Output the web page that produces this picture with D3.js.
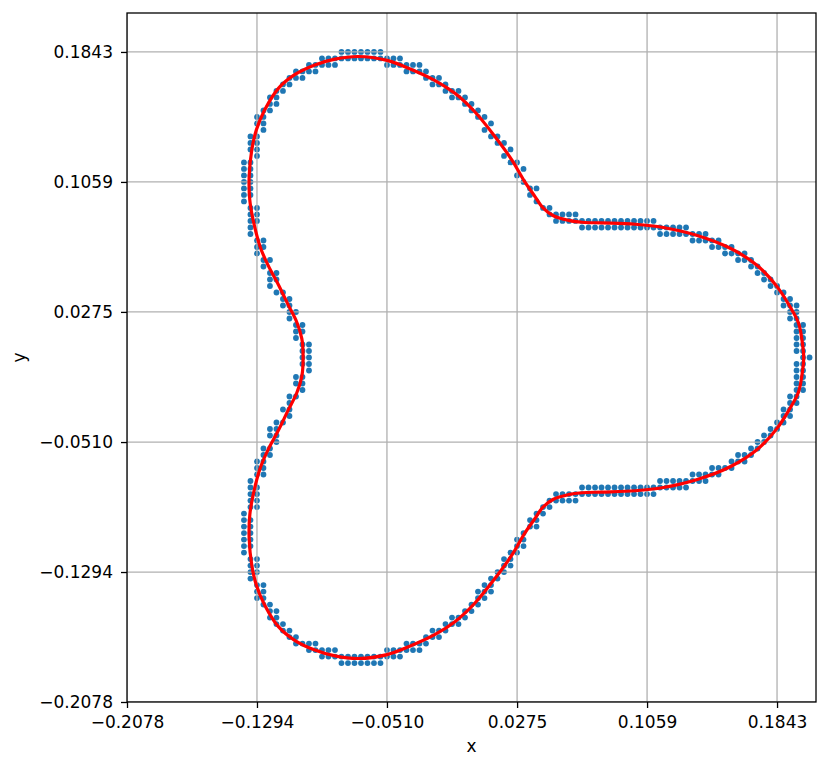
<!DOCTYPE html>
<html>
<head>
<meta charset="utf-8">
<script src="https://cdn.jsdelivr.net/npm/d3@7/dist/d3.min.js"></script>
<style>
  html, body { margin: 0; padding: 0; background: #ffffff; }
  svg { display: block; }
  text { font-family: "DejaVu Sans", sans-serif; }
</style>
</head>
<body>
<svg id="chart" width="830" height="770"></svg>
<script>
// ---------------- data ----------------
// size (in data units) of one pixel cell of the traced outline
const CELL = 0.0039215;

const xTicks = [-0.2078, -0.1294, -0.0510, 0.0275, 0.1059, 0.1843];
const xTickLabels = ["\u22120.2078", "\u22120.1294", "\u22120.0510", "0.0275", "0.1059", "0.1843"];
const yTicks = [-0.2078, -0.1294, -0.0510, 0.0275, 0.1059, 0.1843];
const yTickLabels = ["\u22120.2078", "\u22120.1294", "\u22120.0510", "0.0275", "0.1059", "0.1843"];
const xDomain = [-0.2078, 0.2078];
const yDomain = [-0.2078, 0.2078];

// outline points (blue): each row = [y cell, [x cells ...]]
const dotRows = [
  [47, [-20,-19,-18,-17,-16,-15,-14]],
  [46, [-23,-22,-21,-20,-19,-18,-17,-16,-15,-14,-13,-12,-11]],
  [45, [-25,-24,-23,-22,-21,-13,-12,-11,-10,-9,-8]],
  [44, [-27,-26,-25,-24,-10,-9,-8,-7]],
  [43, [-28,-27,-26,-7,-6,-5]],
  [42, [-29,-28,-6,-5,-4]],
  [41, [-30,-29,-4,-3,-2]],
  [40, [-31,-30,-3,-2,-1]],
  [39, [-31,-30,-1,0]],
  [38, [-32,-31,0,1]],
  [37, [-33,-32,1,2]],
  [36, [-33,-32,3]],
  [35, [-32,2]],
  [34, [-34,-33,3,4]],
  [33, [-34,-33,4,5]],
  [32, [-34,-33,6]],
  [31, [-33,5]],
  [30, [-35,-34,6,7]],
  [29, [-35,-34,8]],
  [28, [-35,-34,7]],
  [27, [-35,-34,8]],
  [26, [-35,-34,9,10]],
  [25, [-35,-34,9]],
  [24, [-35,10]],
  [23, [-34,-33,11,12]],
  [22, [-34,-33,12,13,14,15,16]],
  [21, [-34,-33,13,14,15,16,17,18,19,20,21,22,23,24,25,26,27,28]],
  [20, [-34,17,18,19,20,21,22,23,24,25,26,27,28,29,30,31,32,33]],
  [19, [-34,29,30,31,32,33,34,35,36]],
  [18, [-33,-32,34,35,36,37,38]],
  [17, [-33,-32,37,38,39,40]],
  [16, [-33,39,40,41,42]],
  [15, [-32,-31,41,42,43]],
  [14, [-32,43,44]],
  [13, [-31,-30,44,45]],
  [12, [-31,-30,45,46]],
  [11, [-31,46,47]],
  [10, [-30,-29,47,48]],
  [9, [-29,-28,48,49]],
  [8, [-29,-28,48,49,50]],
  [7, [-28,-27,49,50]],
  [6, [-28,49,50]],
  [5, [-27,-26,50,51]],
  [4, [-27,-26,50,51]],
  [3, [-27,50,51]],
  [2, [-26,-25,50,51]],
  [1, [-26,-25,50,51]],
  [0, [-26,-25,51,52]],
  [-1, [-26,-25,50,51]],
  [-2, [-25,50,51]],
  [-3, [-27,-26,50,51]],
  [-4, [-27,-26,50,51]],
  [-5, [-26,50,51]],
  [-6, [-28,-27,49,50]],
  [-7, [-28,49,50]],
  [-8, [-29,-28,48,49]],
  [-9, [-28,48,49]],
  [-10, [-30,-29,47,48]],
  [-11, [-31,-30,46,47]],
  [-12, [-31,-30,45,46]],
  [-13, [-30,44,45]],
  [-14, [-32,-31,43,44]],
  [-15, [-32,-31,41,42,43]],
  [-16, [-33,-32,40,41,42]],
  [-17, [-33,-32,37,38,39,40]],
  [-18, [-33,-32,34,35,36,37,38]],
  [-19, [-34,29,30,31,32,33,34,35,36]],
  [-20, [-34,-33,17,18,19,20,21,22,23,24,25,26,27,28,29,30,31,32,33]],
  [-21, [-34,-33,13,14,15,16,17,18,19,20,21,22,23,24,25,26,27,28]],
  [-22, [-34,-33,12,13,14,15,16]],
  [-23, [-34,-33,11,12]],
  [-24, [-35,10,11]],
  [-25, [-35,-34,9,10]],
  [-26, [-35,-34,9,10]],
  [-27, [-35,-34,8]],
  [-28, [-35,-34,7,8]],
  [-29, [-35,-34,7,8]],
  [-30, [-35,6,7]],
  [-31, [-34,-33,5,6]],
  [-32, [-34,-33,5,6]],
  [-33, [-34,-33,4,5]],
  [-34, [-34,3,4]],
  [-35, [-33,-32,2,3]],
  [-36, [-33,-32,1,2,3]],
  [-37, [-33,-32,1,2]],
  [-38, [-32,-31,0,1]],
  [-39, [-31,-30,-1,0]],
  [-40, [-31,-30,-3,-2,-1]],
  [-41, [-30,-29,-4,-3,-2]],
  [-42, [-29,-28,-6,-5,-4]],
  [-43, [-28,-27,-7,-6,-5]],
  [-44, [-27,-26,-25,-24,-10,-9,-8,-7]],
  [-45, [-25,-24,-23,-22,-21,-13,-12,-11,-10,-9,-8]],
  [-46, [-23,-22,-21,-20,-19,-18,-17,-16,-15,-14,-13,-12,-11]],
  [-47, [-20,-19,-18,-17,-16,-15,-14]]
];

// fitted smooth outline (red), in the same cell units: [x, y]
const fitCurve = [
  [51.1,0],[50.9,2.2],[50.3,5.3],[49.0,7.8],[47.0,10.9],[43.9,14.2],[39.8,16.8],
  [34.6,18.8],[29.5,20.0],[25.2,20.5],[20.0,20.7],[17.0,20.8],[14.9,21.1],
  [12.6,21.8],[11.0,23.0],[9.6,25.0],[8.2,27.0],[6.2,30.4],[3.6,34.0],[0.5,37.8],
  [-2.5,40.6],[-5.6,42.6],[-9.7,44.5],[-13.0,45.7],[-17.4,46.3],[-21.0,45.9],
  [-24.1,45.0],[-27.2,43.5],[-29.7,41.4],[-31.8,38.1],[-33.1,35.0],[-33.8,31.9],
  [-34.2,27.8],[-34.1,24.2],[-33.6,21.2],[-32.5,17.0],[-31.3,14.2],[-29.7,11.2],
  [-28.2,8.1],[-26.9,5.5],[-26.1,2.9],[-25.9,0],
  [-26.1,-2.9],[-26.9,-5.5],[-28.2,-8.1],[-29.7,-11.2],[-31.3,-14.2],[-32.5,-17.0],
  [-33.6,-21.2],[-34.1,-24.2],[-34.2,-27.8],[-33.8,-31.9],[-33.1,-35.0],[-31.8,-38.1],
  [-29.7,-41.4],[-27.2,-43.5],[-24.1,-45.0],[-21.0,-45.9],[-17.4,-46.3],[-13.0,-45.7],
  [-9.7,-44.5],[-5.6,-42.6],[-2.5,-40.6],[0.5,-37.8],[3.6,-34.0],[6.2,-30.4],
  [8.2,-27.0],[9.6,-25.0],[11.0,-23.0],[12.6,-21.8],[14.9,-21.1],[17.0,-20.8],
  [20.0,-20.7],[25.2,-20.5],[29.5,-20.0],[34.6,-18.8],[39.8,-16.8],[43.9,-14.2],
  [47.0,-10.9],[49.0,-7.8],[50.3,-5.3],[50.9,-2.2]
];

// ---------------- drawing ----------------
const svg = d3.select("#chart");
const W = 830, H = 770;
const plot = { left: 127, top: 13, right: 816, bottom: 702 };

svg.append("rect").attr("width", W).attr("height", H).attr("fill", "#ffffff");

const x = d3.scaleLinear().domain(xDomain).range([plot.left, plot.right]);
const y = d3.scaleLinear().domain(yDomain).range([plot.bottom, plot.top]);

const dots = [];
dotRows.forEach(([gy, gxs]) => gxs.forEach(gx => dots.push({ x: gx * CELL, y: gy * CELL })));

const clipId = "plotclip";
svg.append("clipPath").attr("id", clipId)
  .append("rect")
  .attr("x", plot.left).attr("y", plot.top)
  .attr("width", plot.right - plot.left).attr("height", plot.bottom - plot.top);

const inner = svg.append("g").attr("clip-path", `url(#${clipId})`);

// scatter (below grid, as in matplotlib)
inner.append("g").selectAll("circle").data(dots).join("circle")
  .attr("cx", d => x(d.x)).attr("cy", d => y(d.y))
  .attr("r", 2.9).attr("fill", "#1f77b4");

// grid
const grid = inner.append("g");
grid.selectAll("line.gx").data(xTicks).join("line").attr("class", "gx")
  .attr("x1", d => x(d)).attr("x2", d => x(d))
  .attr("y1", plot.top).attr("y2", plot.bottom)
  .attr("stroke", "#b0b0b0").attr("stroke-width", 1.3);
grid.selectAll("line.gy").data(yTicks).join("line").attr("class", "gy")
  .attr("y1", d => y(d)).attr("y2", d => y(d))
  .attr("x1", plot.left).attr("x2", plot.right)
  .attr("stroke", "#b0b0b0").attr("stroke-width", 1.3);

// fitted red curve
const line = d3.line()
  .x(d => x(d[0] * CELL)).y(d => y(d[1] * CELL))
  .curve(d3.curveCatmullRomClosed.alpha(0.5));
inner.append("path").datum(fitCurve)
  .attr("d", line).attr("fill", "none")
  .attr("stroke", "#ff0000").attr("stroke-width", 3.2)
  .attr("stroke-linejoin", "round");

// axes
const xAxis = d3.axisBottom(x).tickValues(xTicks)
  .tickFormat((d, i) => xTickLabels[i]).tickSize(6).tickPadding(8).tickSizeOuter(0);
const yAxis = d3.axisLeft(y).tickValues(yTicks)
  .tickFormat((d, i) => yTickLabels[i]).tickSize(6).tickPadding(8).tickSizeOuter(0);

const gx = svg.append("g").attr("transform", `translate(0,${plot.bottom})`).call(xAxis);
const gy = svg.append("g").attr("transform", `translate(${plot.left},0)`).call(yAxis);
[gx, gy].forEach(g => {
  g.select(".domain").remove();
  g.selectAll(".tick line").attr("stroke", "#000").attr("stroke-width", 1.3);
  g.selectAll(".tick text").attr("fill", "#000")
    .style("font-family", "'DejaVu Sans', sans-serif").style("font-size", "17px");
});

// spines
svg.append("rect")
  .attr("x", plot.left).attr("y", plot.top)
  .attr("width", plot.right - plot.left).attr("height", plot.bottom - plot.top)
  .attr("fill", "none").attr("stroke", "#000").attr("stroke-width", 1.3);

// axis titles
svg.append("text").attr("x", (plot.left + plot.right) / 2).attr("y", 752)
  .attr("text-anchor", "middle").style("font-size", "17px").attr("fill", "#000").text("x");
svg.append("text")
  .attr("transform", `translate(25,${(plot.top + plot.bottom) / 2}) rotate(-90)`)
  .attr("text-anchor", "middle").style("font-size", "17px").attr("fill", "#000").text("y");
</script>
</body>
</html>
